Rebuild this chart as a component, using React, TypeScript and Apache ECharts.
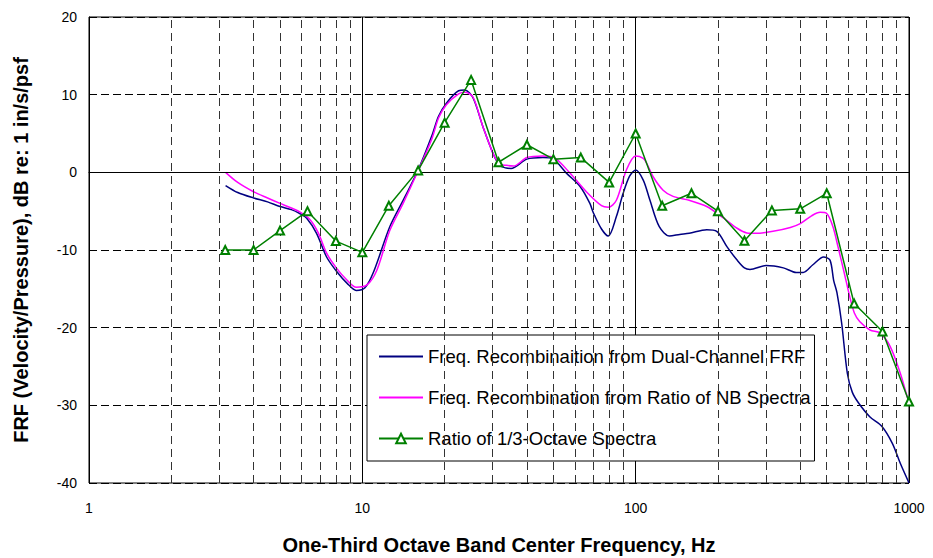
import React, { useEffect, useRef } from "react";
import * as echarts from "echarts";

const blueFreq = [3.16, 3.5, 4.0, 4.5, 5.0, 5.5, 5.9, 6.26, 6.8, 7.4, 8.07, 8.8, 9.5, 10.2, 11, 12.6, 14.1, 16, 18, 19, 20.3, 22.5, 23.7, 25.4, 27.6, 30.1, 31.8, 33.6, 35, 40, 45.8, 50, 55.8, 62.7, 68, 70, 75, 79.4, 85, 90, 95, 100, 106.6, 112.8, 122, 133, 145, 157, 182, 198, 216, 235, 250, 262, 300, 347, 387, 410, 445, 487, 514, 530, 545, 567, 595, 620, 654, 720, 795, 869, 930, 1000];
const blueVal = [-1.7, -2.6, -3.3, -3.8, -4.4, -4.8, -5.3, -5.9, -7.85, -10.9, -12.8, -14.3, -15.2, -14.9, -12.8, -7.0, -3.6, 0.3, 4.8, 7.2, 8.9, 10.5, 10.6, 9.6, 5.9, 2.4, 0.9, 0.55, 0.5, 1.7, 1.9, 1.7, -0.1, -1.85, -4.0, -5.2, -7.3, -8.2, -5.7, -2.7, -0.5, 0.3, -1.0, -3.6, -7.0, -8.2, -8.0, -7.85, -7.4, -7.6, -9.6, -11.3, -12.3, -12.5, -12.0, -12.3, -12.9, -12.9, -11.9, -10.9, -11.3, -13.9, -15.5, -19.4, -25.9, -28.3, -29.7, -31.5, -32.7, -34.9, -37.5, -40];

const pinkFreq = [3.16, 3.5, 4.0, 4.5, 5.0, 5.5, 5.9, 6.44, 6.9, 7.4, 8.07, 8.8, 9.5, 10.4, 11.3, 12.6, 14.1, 16, 18, 19, 20.3, 22.5, 23.7, 25.4, 27.6, 30.1, 31.8, 33.6, 35.7, 40, 45.8, 50.8, 57.5, 66, 75, 79.4, 85, 92.5, 100, 106.6, 109.6, 116, 126, 137, 157, 182, 210, 235, 255, 277, 318, 368, 400, 440, 473, 500, 527, 550, 580, 607, 631, 660, 720, 784, 853, 930, 985, 1000];
const pinkVal = [0.0, -1.3, -2.5, -3.3, -4.0, -4.6, -5.1, -6.1, -7.8, -10.4, -12.4, -13.9, -14.8, -14.5, -12.6, -7.5, -4.0, 0.2, 4.4, 7.0, 8.7, 10.1, 10.3, 9.7, 5.9, 2.4, 1.1, 0.9, 0.8, 1.9, 2.1, 1.8, -0.1, -2.5, -4.3, -4.5, -3.6, 0.3, 2.1, 1.8, 1.2, -0.6, -2.3, -3.1, -3.6, -4.4, -5.9, -7.2, -7.8, -7.85, -7.6, -7.1, -6.6, -5.6, -5.15, -5.3, -7.0, -9.6, -13.0, -16.0, -18.1, -19.2, -20.3, -20.7, -22.4, -25.9, -28.9, -29.6];

const greenFreq = [3.15, 4, 5, 6.3, 8, 10, 12.5, 16, 20, 25, 31.5, 40, 50, 63, 80, 100, 125, 160, 200, 250, 315, 400, 500, 630, 800, 1000];
const greenVal = [-10, -10, -7.5, -5.0, -8.85, -10.3, -4.3, 0.25, 6.4, 11.9, 1.3, 3.55, 1.7, 1.9, -1.3, 5.0, -4.3, -2.7, -5.0, -8.8, -4.9, -4.7, -2.7, -16.9, -20.5, -29.5];

const minorGridFreqs = [2, 3, 4, 5, 6, 7, 8, 9, 20, 30, 40, 50, 60, 70, 80, 90, 200, 300, 400, 500, 600, 700, 800, 900];

const seriesNames = [
  "Freq. Recombinaition from Dual-Channel FRF",
  "Freq. Recombination from Ratio of NB Spectra",
  "Ratio of 1/3-Octave Spectra",
];

const FONT = "'Liberation Sans', Arial, sans-serif";

export default function App() {
  const ref = useRef<HTMLDivElement>(null);
  useEffect(() => {
    if (!ref.current) return;
    const chart = echarts.init(ref.current, null, { renderer: "svg" });
    const pair = (fs: number[], vs: number[]) => fs.map((f, i) => [f, vs[i]]);
    chart.setOption({
      animation: false,
      backgroundColor: "#fff",
      textStyle: { fontFamily: FONT },
      grid: {
        left: 89, right: 24, top: 17, bottom: 75,
        outerBoundsMode: "none",
        containLabel: false,
        show: true, borderColor: "#000", borderWidth: 1, backgroundColor: "#fff",
      },
      legend: {
        orient: "vertical",
        left: 367,
        top: 335,
        padding: [11, 4, 12, 11],
        itemGap: 20,
        itemWidth: 44,
        itemHeight: 12,
        backgroundColor: "#fff",
        borderColor: "#000",
        borderWidth: 1,
        selectedMode: false,
        textStyle: { fontFamily: FONT, fontSize: 18.5, color: "#000", lineHeight: 21 },
        data: [
          { name: seriesNames[0], itemStyle: { opacity: 0 } },
          { name: seriesNames[1], itemStyle: { opacity: 0 } },
          { name: seriesNames[2] },
        ],
      },
      xAxis: {
        type: "log",
        logBase: 10,
        min: 1,
        max: 1000,
        name: "One-Third Octave Band Center Frequency, Hz",
        nameLocation: "middle",
        nameGap: 52,
        nameTextStyle: { fontFamily: FONT, fontSize: 20, fontWeight: "bold", color: "#000" },
        axisLine: { show: true, lineStyle: { color: "#000", width: 1 } },
        axisTick: { show: false },
        axisLabel: { fontFamily: FONT, fontSize: 14, color: "#000", margin: 18, formatter: (v: number) => String(Math.round(v)) },
        splitLine: { show: true, lineStyle: { color: "#000", width: 1, type: "solid" } },
      },
      yAxis: {
        type: "value",
        min: -40,
        max: 20,
        interval: 10,
        name: "FRF (Velocity/Pressure), dB re: 1 in/s/psf",
        nameLocation: "middle",
        nameGap: 58,
        nameTextStyle: { fontFamily: FONT, fontSize: 20, fontWeight: "bold", color: "#000" },
        axisLine: { show: true, lineStyle: { color: "#000", width: 1 } },
        axisTick: { show: false },
        axisLabel: { fontFamily: FONT, fontSize: 14, color: "#000", margin: 12 },
        splitLine: { show: true, lineStyle: { color: "#000", width: 1, type: [8, 4] } },
      },
      series: [
        {
          name: seriesNames[0],
          type: "line",
          data: pair(blueFreq, blueVal),
          symbol: "none",
          smooth: 0.3,
          lineStyle: { color: "#000080", width: 1.5 },
          itemStyle: { color: "#000080" },
          z: 3,
          markLine: {
            silent: true,
            symbol: "none",
            label: { show: false },
            lineStyle: { color: "#333", width: 1, type: [8, 5] },
            data: minorGridFreqs.map((f) => ({ xAxis: f })),
          },
        },
        {
          name: seriesNames[1],
          type: "line",
          data: pair(pinkFreq, pinkVal),
          symbol: "none",
          smooth: 0.3,
          lineStyle: { color: "#FF00FF", width: 1.5 },
          itemStyle: { color: "#FF00FF" },
          z: 4,
          markLine: {
            silent: true,
            symbol: "none",
            label: { show: false },
            lineStyle: { color: "#000", width: 1, type: "solid" },
            data: [{ yAxis: 0 }],
          },
        },
        {
          name: seriesNames[2],
          type: "line",
          data: pair(greenFreq, greenVal),
          symbol: "emptyTriangle",
          symbolSize: 8,
          lineStyle: { color: "#008000", width: 1.5 },
          itemStyle: { color: "#008000", borderColor: "#008000", borderWidth: 1.5 },
          z: 5,
        },
      ],
    });
    return () => chart.dispose();
  }, []);
  return <div ref={ref} style={{ position: "absolute", left: 0, top: 0, width: 933, height: 558 }} />;
}
